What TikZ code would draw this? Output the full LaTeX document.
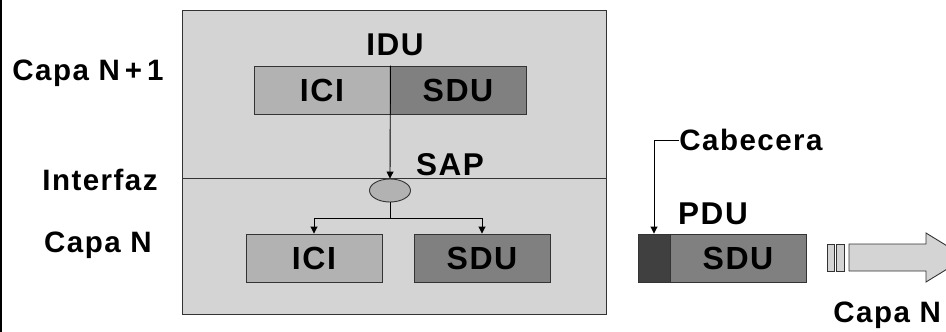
\documentclass[tikz,border=0pt]{standalone}
\usepackage{fontspec}
\setmainfont{Liberation Sans}[LetterSpace=5]
\usepackage{tikz}
\usepackage{xcolor}
\usetikzlibrary{shapes.geometric}
\usetikzlibrary{shapes.arrows, chains}
\usetikzlibrary{arrows, arrows.meta}

\definecolor{capa}{HTML}{D4D4D4}
\definecolor{icigris}{HTML}{B2B2B2}
\definecolor{sdugris}{HTML}{808080}
\definecolor{cabgris}{HTML}{404040}
\definecolor{borde}{HTML}{333333}

\begin{document}
\begin{tikzpicture}[
 x=1pt, y=-1pt,
 line width=0.9pt,
 >={Triangle[length=7pt,width=7pt]},
 block/.style = {
    rectangle,
    draw=borde,
    minimum width = 136pt,
    minimum height = 48pt,
    inner sep = 0pt,
    font=\bfseries\fontsize{32}{32}\selectfont},
 etiq/.style = {
    inner sep = 0pt,
    text height = 21pt,
    text depth = 0pt,
    font=\bfseries\fontsize{29.5}{30}\selectfont},
 titulo/.style = {
    etiq,
    text height = 23pt,
    font=\bfseries\fontsize{31.5}{32}\selectfont},
  node distance = 136pt
  ]
\useasboundingbox (0,0) rectangle (946,332);
\draw[line width=2pt] (1,0) -- (1,332);

% las dos capas
\draw[draw=borde,fill=capa] (182,10) rectangle (606,314);
\draw[draw=borde] (182,178) -- (606,178);

\node(idu)[titulo] at (395,44) {IDU};
\node(icitop)[block,fill=icigris] at (322,90) {ICI};
\node(sdutop)[block,fill=sdugris,right of=icitop] {SDU};

\node(sap)[ellipse,draw=borde,fill=icigris,minimum width=41pt,minimum height=23pt,inner sep=0pt] at (390,190.5) {};
\node(saplbl)[titulo] at (450,164) {SAP};

\node(icibot)[block,fill=icigris] at (314,258) {ICI};
\node(sdubot)[block,fill=sdugris,right of=icibot,node distance=168pt] {SDU};

\coordinate(rama) at (390,218);
\draw[->,black] (icitop.north east) -- (sap.north);
\draw[black] (sap.south) -- (rama);
\draw[->,black] (rama) -| (icibot.north);
\draw[->,black] (rama) -| (sdubot.north);

% etiquetas de la izquierda
\node(capa1)[etiq] at (88,70) {Capa N\,+\,1};
\node(interfaz)[etiq] at (100,180) {Interfaz};
\node(capan)[etiq] at (98,242) {Capa N};

% PDU
\node(cab)[block,fill=cabgris,minimum width=32pt] at (654,258) {};
\node(sdupdu)[block,fill=sdugris,right of=cab,node distance=84pt] {SDU};
\node(pdu)[titulo] at (713,212.5) {PDU};
\node(cabecera)[etiq,anchor=west] at (679,140) {Cabecera};
\draw[->,black] (cabecera.west) -| (cab.north);

% flecha hacia la capa N
\draw[draw=borde,fill=capa] (827,244) rectangle (834,271);
\draw[draw=borde,fill=capa] (836,244) rectangle (844,271);
\draw[draw=borde,fill=capa] (849,244) -- (926,244) -- (926,233)
  -- (966,257.5) -- (926,282) -- (926,271) -- (849,271) -- cycle;
\node(capaabajo)[etiq,anchor=west] at (833,312) {Capa N};

\end{tikzpicture}
\end{document}
